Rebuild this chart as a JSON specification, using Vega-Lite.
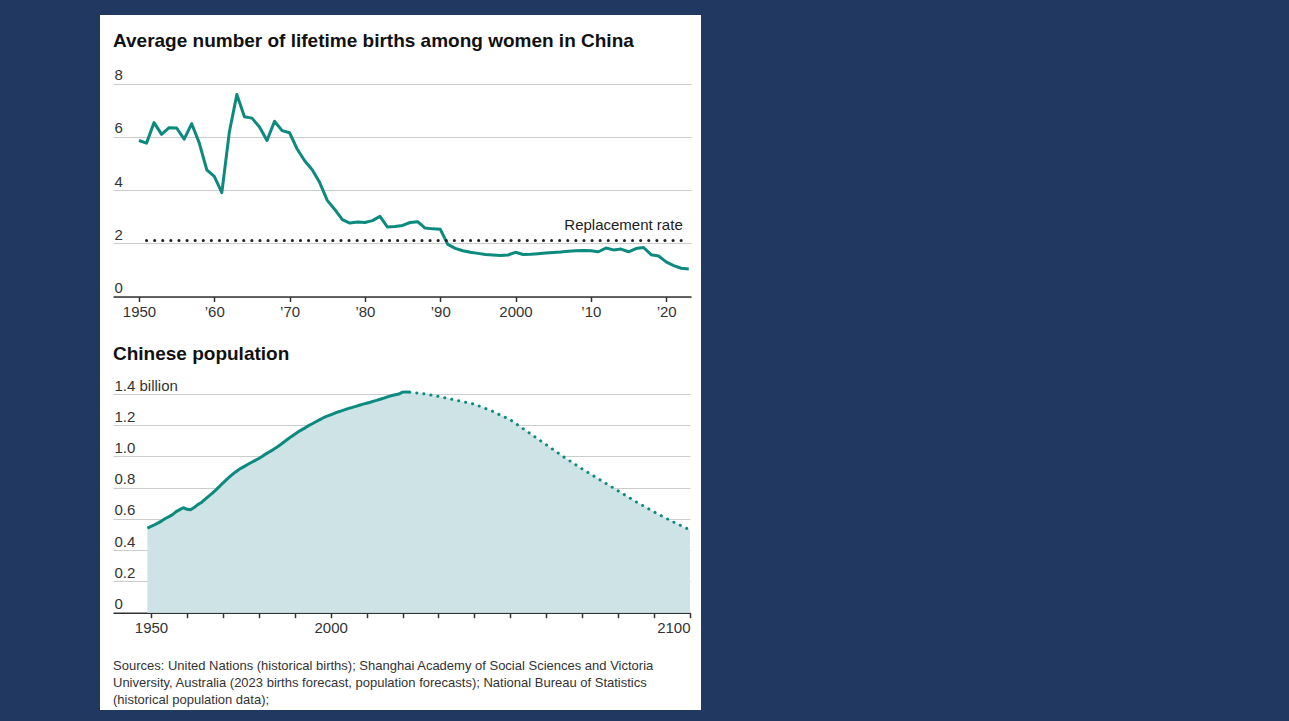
{
  "$schema": "https://vega.github.io/schema/vega-lite/v6.json",
  "background": "#213861",
  "padding": {"left": 100, "top": 15, "right": 588, "bottom": 11},
  "spacing": 0,
  "title": {
    "text": ["Sources: United Nations (historical births); Shanghai Academy of Social Sciences and Victoria", "University, Australia (2023 births forecast, population forecasts); National Bureau of Statistics", "(historical population data);"],
    "orient": "bottom", "anchor": "start", "frame": "group", "offset": -50, "baseline": "top", "dx": 13,
    "fontSize": 13, "fontWeight": "normal", "font": "Liberation Sans", "color": "#333333", "lineHeight": 17
  },
  "datasets": {
    "births": [
      {"year":1950,"tfr":5.86},{"year":1951,"tfr":5.76},{"year":1952,"tfr":6.53},{"year":1953,"tfr":6.09},{"year":1954,"tfr":6.34},{"year":1955,"tfr":6.33},{"year":1956,"tfr":5.91},{"year":1957,"tfr":6.49},{"year":1958,"tfr":5.77},{"year":1959,"tfr":4.76},{"year":1960,"tfr":4.51},{"year":1961,"tfr":3.90},{"year":1962,"tfr":6.18},{"year":1963,"tfr":7.59},{"year":1964,"tfr":6.75},{"year":1965,"tfr":6.70},{"year":1966,"tfr":6.37},{"year":1967,"tfr":5.86},{"year":1968,"tfr":6.58},{"year":1969,"tfr":6.23},{"year":1970,"tfr":6.15},{"year":1971,"tfr":5.54},{"year":1972,"tfr":5.10},{"year":1973,"tfr":4.76},{"year":1974,"tfr":4.28},{"year":1975,"tfr":3.61},{"year":1976,"tfr":3.27},{"year":1977,"tfr":2.89},{"year":1978,"tfr":2.76},{"year":1979,"tfr":2.80},{"year":1980,"tfr":2.78},{"year":1981,"tfr":2.85},{"year":1982,"tfr":3.01},{"year":1983,"tfr":2.61},{"year":1984,"tfr":2.63},{"year":1985,"tfr":2.67},{"year":1986,"tfr":2.78},{"year":1987,"tfr":2.81},{"year":1988,"tfr":2.57},{"year":1989,"tfr":2.54},{"year":1990,"tfr":2.53},{"year":1991,"tfr":1.96},{"year":1992,"tfr":1.81},{"year":1993,"tfr":1.72},{"year":1994,"tfr":1.66},{"year":1995,"tfr":1.62},{"year":1996,"tfr":1.58},{"year":1997,"tfr":1.56},{"year":1998,"tfr":1.54},{"year":1999,"tfr":1.56},{"year":2000,"tfr":1.66},{"year":2001,"tfr":1.58},{"year":2002,"tfr":1.59},{"year":2003,"tfr":1.61},{"year":2004,"tfr":1.63},{"year":2005,"tfr":1.65},{"year":2006,"tfr":1.67},{"year":2007,"tfr":1.70},{"year":2008,"tfr":1.72},{"year":2009,"tfr":1.73},{"year":2010,"tfr":1.72},{"year":2011,"tfr":1.68},{"year":2012,"tfr":1.82},{"year":2013,"tfr":1.75},{"year":2014,"tfr":1.78},{"year":2015,"tfr":1.68},{"year":2016,"tfr":1.80},{"year":2017,"tfr":1.84},{"year":2018,"tfr":1.57},{"year":2019,"tfr":1.52},{"year":2020,"tfr":1.30},{"year":2021,"tfr":1.16},{"year":2022,"tfr":1.06},{"year":2023,"tfr":1.03}
    ],
    "replacement": [
      {"start": 1951, "end": 2022.6, "rate": 2.1, "label": "Replacement rate"}
    ],
    "population": [
      {"year":1949,"pop":0.542,"kind":"hist"},{"year":1950,"pop":0.552,"kind":"hist"},{"year":1951,"pop":0.563,"kind":"hist"},{"year":1952,"pop":0.575,"kind":"hist"},{"year":1953,"pop":0.588,"kind":"hist"},{"year":1954,"pop":0.603,"kind":"hist"},{"year":1955,"pop":0.615,"kind":"hist"},{"year":1956,"pop":0.628,"kind":"hist"},{"year":1957,"pop":0.647,"kind":"hist"},{"year":1958,"pop":0.660,"kind":"hist"},{"year":1959,"pop":0.672,"kind":"hist"},{"year":1960,"pop":0.662,"kind":"hist"},{"year":1961,"pop":0.659,"kind":"hist"},{"year":1962,"pop":0.673,"kind":"hist"},{"year":1963,"pop":0.692,"kind":"hist"},{"year":1964,"pop":0.705,"kind":"hist"},{"year":1965,"pop":0.725,"kind":"hist"},{"year":1966,"pop":0.745,"kind":"hist"},{"year":1967,"pop":0.764,"kind":"hist"},{"year":1968,"pop":0.785,"kind":"hist"},{"year":1969,"pop":0.807,"kind":"hist"},{"year":1970,"pop":0.830,"kind":"hist"},{"year":1971,"pop":0.852,"kind":"hist"},{"year":1972,"pop":0.872,"kind":"hist"},{"year":1973,"pop":0.892,"kind":"hist"},{"year":1974,"pop":0.909,"kind":"hist"},{"year":1975,"pop":0.924,"kind":"hist"},{"year":1976,"pop":0.937,"kind":"hist"},{"year":1977,"pop":0.950,"kind":"hist"},{"year":1978,"pop":0.963,"kind":"hist"},{"year":1979,"pop":0.975,"kind":"hist"},{"year":1980,"pop":0.987,"kind":"hist"},{"year":1981,"pop":1.001,"kind":"hist"},{"year":1982,"pop":1.017,"kind":"hist"},{"year":1983,"pop":1.030,"kind":"hist"},{"year":1984,"pop":1.044,"kind":"hist"},{"year":1985,"pop":1.059,"kind":"hist"},{"year":1986,"pop":1.075,"kind":"hist"},{"year":1987,"pop":1.093,"kind":"hist"},{"year":1988,"pop":1.110,"kind":"hist"},{"year":1989,"pop":1.127,"kind":"hist"},{"year":1990,"pop":1.143,"kind":"hist"},{"year":1991,"pop":1.158,"kind":"hist"},{"year":1992,"pop":1.172,"kind":"hist"},{"year":1993,"pop":1.185,"kind":"hist"},{"year":1994,"pop":1.199,"kind":"hist"},{"year":1995,"pop":1.211,"kind":"hist"},{"year":1996,"pop":1.224,"kind":"hist"},{"year":1997,"pop":1.236,"kind":"hist"},{"year":1998,"pop":1.248,"kind":"hist"},{"year":1999,"pop":1.258,"kind":"hist"},{"year":2000,"pop":1.267,"kind":"hist"},{"year":2001,"pop":1.276,"kind":"hist"},{"year":2002,"pop":1.285,"kind":"hist"},{"year":2003,"pop":1.292,"kind":"hist"},{"year":2004,"pop":1.300,"kind":"hist"},{"year":2005,"pop":1.308,"kind":"hist"},{"year":2006,"pop":1.314,"kind":"hist"},{"year":2007,"pop":1.321,"kind":"hist"},{"year":2008,"pop":1.328,"kind":"hist"},{"year":2009,"pop":1.335,"kind":"hist"},{"year":2010,"pop":1.341,"kind":"hist"},{"year":2011,"pop":1.347,"kind":"hist"},{"year":2012,"pop":1.354,"kind":"hist"},{"year":2013,"pop":1.361,"kind":"hist"},{"year":2014,"pop":1.368,"kind":"hist"},{"year":2015,"pop":1.375,"kind":"hist"},{"year":2016,"pop":1.383,"kind":"hist"},{"year":2017,"pop":1.390,"kind":"hist"},{"year":2018,"pop":1.395,"kind":"hist"},{"year":2019,"pop":1.400,"kind":"hist"},{"year":2020,"pop":1.412,"kind":"hist"},{"year":2021,"pop":1.413,"kind":"hist"},{"year":2022,"pop":1.412,"kind":"hist"},
      {"year":2022,"pop":1.412,"kind":"fcst"},{"year":2023,"pop":1.409,"kind":"fcst"},{"year":2025,"pop":1.405,"kind":"fcst"},{"year":2030,"pop":1.385,"kind":"fcst"},{"year":2035,"pop":1.36,"kind":"fcst"},{"year":2040,"pop":1.335,"kind":"fcst"},{"year":2045,"pop":1.29,"kind":"fcst"},{"year":2050,"pop":1.235,"kind":"fcst"},{"year":2055,"pop":1.155,"kind":"fcst"},{"year":2060,"pop":1.075,"kind":"fcst"},{"year":2065,"pop":0.995,"kind":"fcst"},{"year":2070,"pop":0.92,"kind":"fcst"},{"year":2075,"pop":0.85,"kind":"fcst"},{"year":2080,"pop":0.78,"kind":"fcst"},{"year":2085,"pop":0.71,"kind":"fcst"},{"year":2090,"pop":0.645,"kind":"fcst"},{"year":2095,"pop":0.585,"kind":"fcst"},{"year":2100,"pop":0.53,"kind":"fcst"}
    ]
  },
  "vconcat": [
    {
      "width": 601,
      "height": 320,
      "title": {
        "text": "Average number of lifetime births among women in China",
        "anchor": "start", "frame": "group", "offset": -36, "baseline": "top", "dx": 13,
        "fontSize": 19, "fontWeight": "bold", "font": "Liberation Sans", "color": "#111111"
      },
      "layer": [
        {
          "data": {"name": "births"},
          "mark": {"type": "line", "color": "#0d8a7e", "strokeWidth": 3, "strokeJoin": "round"},
          "encoding": {
            "x": {
              "field": "year", "type": "quantitative",
              "scale": {"domain": [1946.55, 2023.3], "range": [13, 591], "nice": false, "zero": false},
              "axis": {
                "title": null, "values": [1950, 1960, 1970, 1980, 1990, 2000, 2010, 2020], "format": "d",
                "labelExpr": "datum.value == 1950 || datum.value == 2000 ? datum.label : '\u2019' + substring(datum.label, 2)",
                "offset": -38.5, "grid": false, "labelFlush": false,
                "domainColor": "#333333", "domainWidth": 1.5, "tickColor": "#333333", "tickSize": 5, "tickWidth": 1.5,
                "labelPadding": 3, "labelFontSize": 15, "labelColor": "#333333"
              }
            },
            "y": {
              "field": "tfr", "type": "quantitative",
              "scale": {"domain": [0, 8], "range": [281.5, 68.5], "nice": false},
              "axis": {
                "title": null, "values": [0, 2, 4, 6, 8], "domain": false, "ticks": false, "tickSize": 0,
                "labelAlign": "left", "labelBaseline": "alphabetic", "labelPadding": -14, "labelOffset": -4,
                "gridColor": "#cccccc", "gridWidth": 1.2, "labelFontSize": 15, "labelColor": "#333333"
              }
            }
          }
        },
        {
          "data": {"name": "replacement"},
          "mark": {"type": "rule", "strokeDash": [0.1, 8], "strokeCap": "round", "strokeWidth": 3, "color": "#222222"},
          "encoding": {
            "x": {"field": "start", "type": "quantitative"},
            "x2": {"field": "end"},
            "y": {"field": "rate", "type": "quantitative"}
          }
        },
        {
          "data": {"name": "replacement"},
          "mark": {"type": "text", "align": "right", "baseline": "alphabetic", "dy": -11, "dx": -3, "fontSize": 15, "color": "#222222"},
          "encoding": {
            "x": {"field": "end", "type": "quantitative"},
            "y": {"field": "rate", "type": "quantitative"},
            "text": {"field": "label"}
          }
        }
      ]
    },
    {
      "width": 601,
      "height": 375,
      "title": {
        "text": "Chinese population",
        "anchor": "start", "frame": "group", "offset": -29, "baseline": "top", "dx": 13,
        "fontSize": 19, "fontWeight": "bold", "font": "Liberation Sans", "color": "#111111"
      },
      "data": {"name": "population"},
      "encoding": {
        "x": {
          "field": "year", "type": "quantitative",
          "scale": {"domain": [1939.42, 2100], "range": [13, 590], "nice": false, "zero": false},
          "axis": {
            "title": null, "values": [1950, 1960, 1970, 1980, 1990, 2000, 2010, 2020, 2030, 2040, 2050, 2060, 2070, 2080, 2090, 2100], "format": "d",
            "labelExpr": "indexof([1950, 2000, 2100], datum.value) >= 0 ? datum.label : ''",
            "labelAlign": {"condition": {"test": "datum.value == 2100", "value": "right"}, "value": "center"},
            "offset": -97.3, "grid": false, "labelFlush": false,
            "domainColor": "#333333", "domainWidth": 1.5, "tickColor": "#333333", "tickSize": 5, "tickWidth": 1.5,
            "labelPadding": 3, "labelFontSize": 15, "labelColor": "#333333"
          }
        },
        "y": {
          "field": "pop", "type": "quantitative", "stack": null,
          "scale": {"domain": [0, 1.4], "range": [277.7, 59], "nice": false},
          "axis": {
            "title": null, "values": [0, 0.2, 0.4, 0.6, 0.8, 1.0, 1.2, 1.4], "domain": false, "ticks": false, "tickSize": 0,
            "labelExpr": "datum.value == 0 ? '0' : datum.value > 1.39 ? '1.4 billion' : format(datum.value, '.1f')",
            "labelAlign": "left", "labelBaseline": "alphabetic", "labelPadding": -14, "labelOffset": -4,
            "gridColor": "#cccccc", "gridWidth": 1.2, "labelFontSize": 15, "labelColor": "#333333"
          }
        }
      },
      "layer": [
        {
          "mark": {"type": "area", "color": "#cde3e6", "opacity": 1},
          "encoding": {}
        },
        {
          "transform": [{"filter": "datum.kind == 'hist'"}],
          "mark": {"type": "line", "color": "#0d8a7e", "strokeWidth": 3, "strokeJoin": "round"},
          "encoding": {}
        },
        {
          "transform": [{"filter": "datum.kind == 'fcst'"}],
          "mark": {"type": "line", "color": "#0d8a7e", "strokeWidth": 3, "strokeDash": [0.1, 7], "strokeCap": "round"},
          "encoding": {}
        }
      ]
    }
  ],
  "config": {
    "font": "Liberation Sans",
    "view": {"fill": "white", "stroke": null},
    "axis": {"minExtent": 0, "labelFont": "Liberation Sans"}
  }
}
